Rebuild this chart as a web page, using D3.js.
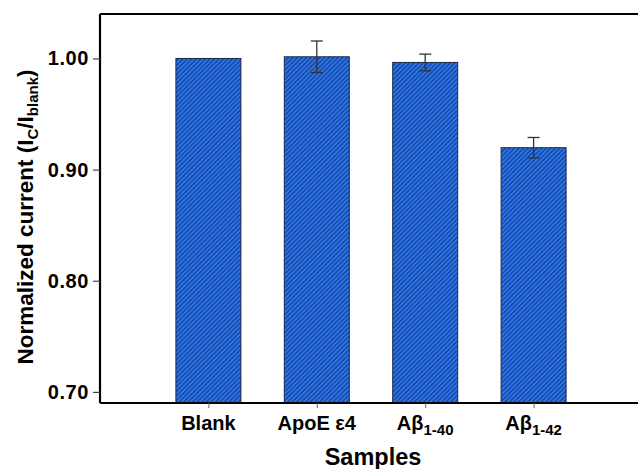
<!DOCTYPE html>
<html>
<head>
<meta charset="utf-8">
<script src="https://cdn.jsdelivr.net/npm/d3@7"></script>
<style>
  body { margin: 0; background: #fff; }
  text { font-family: "Liberation Sans", Arial, sans-serif; font-weight: bold; fill: #000; }
</style>
</head>
<body>
<div id="chart"></div>
<script>
// Data
const categories = ["Blank", "ApoE ε4", "Aβ|1-40", "Aβ|1-42"];
const values = [1.000, 1.0015, 0.9964, 0.9197];
const errors = [0, 0.0142, 0.0075, 0.0092];
const yTicks = [0.70, 0.80, 0.90, 1.00];

const W = 638, H = 469;
const margin = { top: 14, right: -4, bottom: 66, left: 100 };
const width = W - margin.left - margin.right;
const height = H - margin.top - margin.bottom;

const svg = d3.select("#chart").append("svg")
    .attr("width", W)
    .attr("height", H);

// Diagonal hatch fill
const defs = svg.append("defs");
const pat = defs.append("pattern")
    .attr("id", "hatch")
    .attr("patternUnits", "userSpaceOnUse")
    .attr("width", 3.2)
    .attr("height", 10)
    .attr("patternTransform", "rotate(45)");
pat.append("rect").attr("width", 3.2).attr("height", 10).attr("fill", "#2b77ea");
pat.append("rect").attr("width", 1.5).attr("height", 10).attr("fill", "#1a48a2");

const g = svg.append("g")
    .attr("transform", `translate(${margin.left},${margin.top})`);

// X scale - category positions 1..4 on a linear scale
const x = d3.scaleLinear()
    .domain([0, categories.length + 1])
    .range([0, width]);
const barW = 65;

// Y scale
const y = d3.scaleLinear()
    .domain([0.69, 1.04])
    .range([height, 0]);

// Bars
g.selectAll(".bar")
    .data(values)
    .enter()
    .append("rect")
    .attr("class", "bar")
    .attr("x", (d, i) => x(i + 1) - barW / 2)
    .attr("y", d => y(d))
    .attr("width", barW)
    .attr("height", d => height - y(d))
    .attr("fill", "url(#hatch)")
    .attr("stroke", "#1a2748")
    .attr("stroke-width", 1);

// Error bars
const err = g.selectAll(".err")
    .data(values.map((v, i) => ({ v, e: errors[i], i })).filter(d => d.e > 0))
    .enter()
    .append("g")
    .attr("stroke", "#333")
    .attr("stroke-width", 1.3);
err.append("line")
    .attr("x1", d => x(d.i + 1)).attr("x2", d => x(d.i + 1))
    .attr("y1", d => y(d.v + d.e)).attr("y2", d => y(d.v - d.e));
err.append("line")
    .attr("x1", d => x(d.i + 1) - 6).attr("x2", d => x(d.i + 1) + 6)
    .attr("y1", d => y(d.v + d.e)).attr("y2", d => y(d.v + d.e));
err.append("line")
    .attr("x1", d => x(d.i + 1) - 6).attr("x2", d => x(d.i + 1) + 6)
    .attr("y1", d => y(d.v - d.e)).attr("y2", d => y(d.v - d.e));

// Top frame line
g.append("line")
    .attr("x1", 0).attr("x2", width)
    .attr("y1", 0).attr("y2", 0)
    .attr("stroke", "#000").attr("stroke-width", 2.2);

// Y axis
const yAxis = g.append("g")
    .call(d3.axisLeft(y).tickValues(yTicks).tickFormat(d3.format(".2f")).tickSize(7).tickPadding(4));
yAxis.select(".domain").attr("stroke-width", 2.2).attr("d", `M0,${height}V0`);
yAxis.selectAll(".tick line").attr("stroke", "#444").attr("stroke-width", 1.2);
yAxis.selectAll(".tick text")
    .attr("font-size", 20)
    .attr("letter-spacing", 0.6)
    .attr("font-family", "Liberation Sans, Arial, sans-serif")
    .attr("font-weight", "bold");

// X axis
const xAxis = g.append("g")
    .attr("transform", `translate(0,${height})`)
    .call(d3.axisBottom(x).tickValues(d3.range(1, categories.length + 1)).tickSize(5).tickFormat(""));
xAxis.select(".domain").attr("stroke-width", 2.2).attr("d", `M0,0H${width}`);
xAxis.selectAll(".tick line").attr("stroke", "#666").attr("stroke-width", 1);

// Category labels with subscripts
categories.forEach((c, i) => {
    const [main, sub] = c.split("|");
    const t = g.append("text")
        .attr("x", x(i + 1))
        .attr("y", height + 27)
        .attr("text-anchor", "middle")
        .attr("font-size", 20);
    t.append("tspan").text(main);
    if (sub) {
        t.append("tspan").attr("font-size", 15).attr("dy", 5).text(sub);
    }
});

// X title
g.append("text")
    .attr("x", width / 2 + 2)
    .attr("y", height + 62)
    .attr("text-anchor", "middle")
    .attr("font-size", 23.5)
    .text("Samples");

// Y title
const yt = svg.append("text")
    .attr("transform", `translate(33,${margin.top + 203}) rotate(-90)`)
    .attr("text-anchor", "middle")
    .attr("font-size", 22.5);
yt.append("tspan").text("Normalized current (I");
yt.append("tspan").attr("font-size", 15).attr("dy", 5).text("C");
yt.append("tspan").attr("dy", -5).text("/I");
yt.append("tspan").attr("font-size", 15).attr("dy", 5).text("blank");
yt.append("tspan").attr("dy", -5).text(")");
</script>
</body>
</html>
